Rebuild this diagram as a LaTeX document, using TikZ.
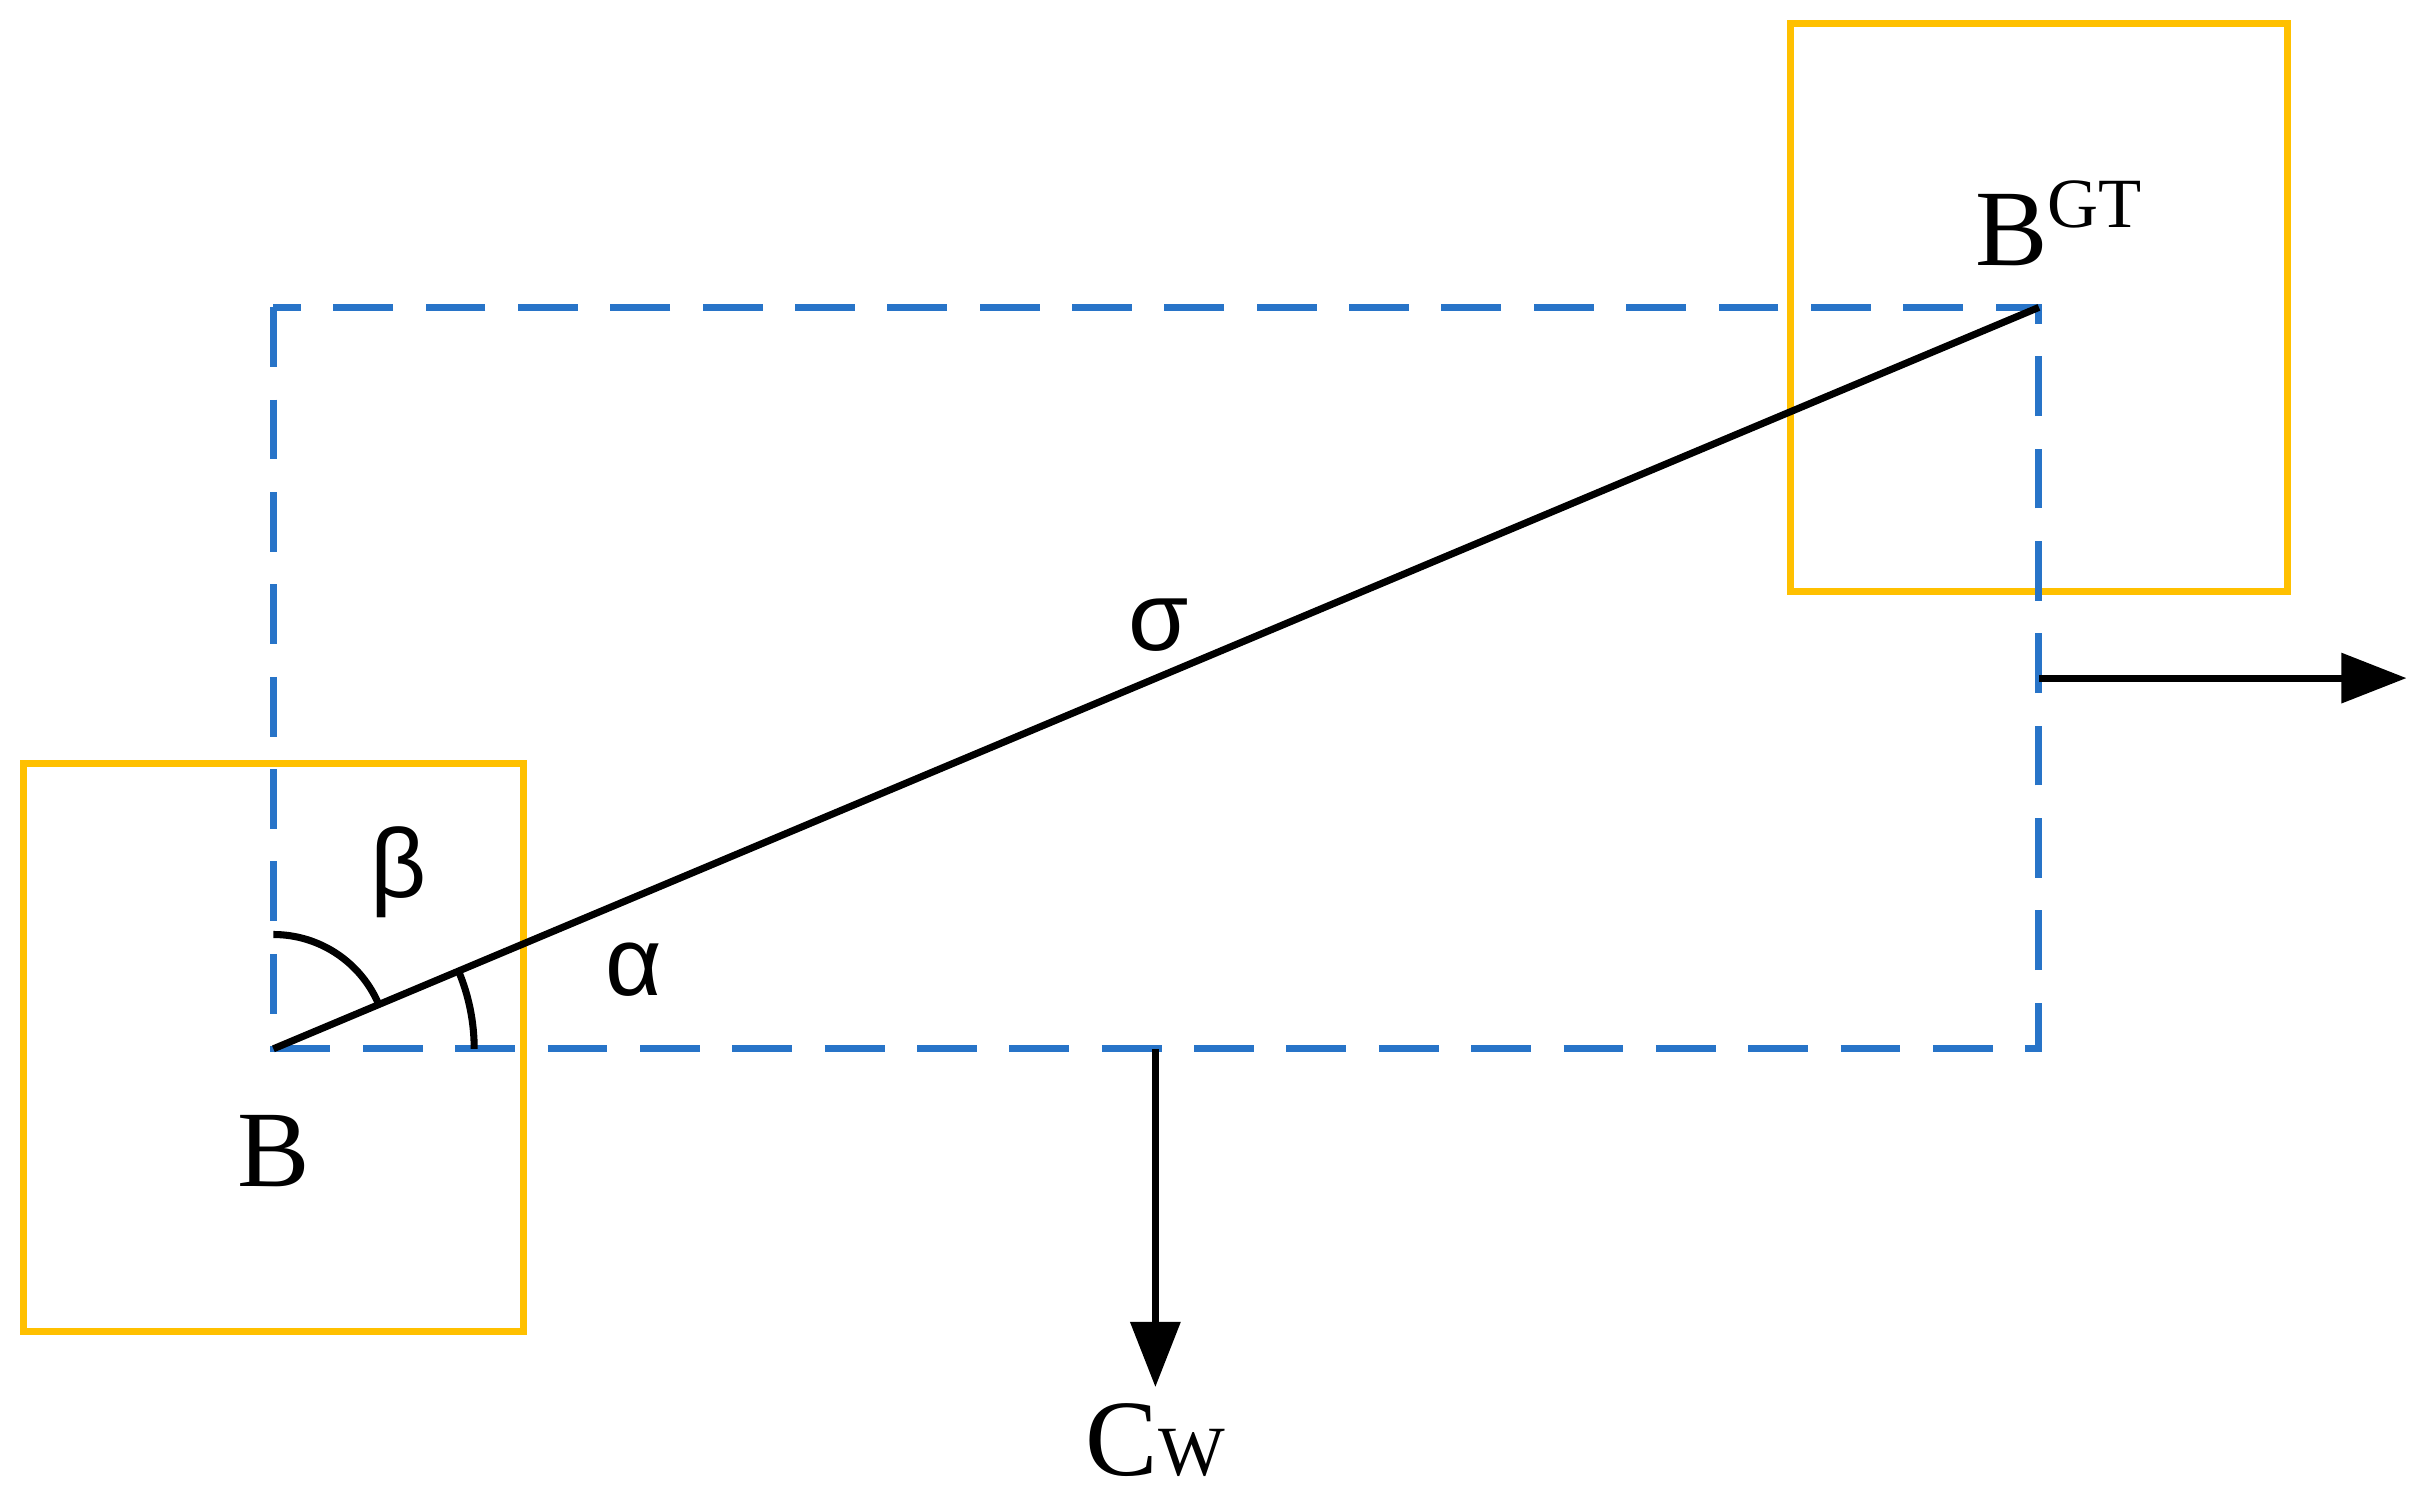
\documentclass[tikz,border=0pt]{standalone}
\usepackage{fontspec}
\setmainfont{Liberation Serif}
\newfontfamily\gsans{Liberation Sans}
\usetikzlibrary{arrows.meta}
\definecolor{orng}{RGB}{255,192,0}
\definecolor{blu}{RGB}{40,116,200}
\begin{document}
\begin{tikzpicture}[x=0.01cm,y=-0.01cm,
  obox/.style={draw=orng,line width=1.3pt},
  dbox/.style={draw=blu,line width=1.3pt,dash pattern=on 11pt off 6pt},
  ln/.style={line width=1.3pt,black},
  arr/.style={ln,-{Triangle[length=12pt,width=9pt]}},
  lab/.style={font=\fontsize{20}{22}\selectfont,inner sep=0pt},
  glab/.style={font=\gsans\fontsize{18}{20}\selectfont}]
\useasboundingbox (0,0) rectangle (1568,970);
\draw[obox] (15,494) rectangle (339,862);
\draw[obox] (1159,15) rectangle (1481,383);
\draw[dbox] (177,199) rectangle (1320,679);
\coordinate (B) at (177,679);
\coordinate (G) at (1320,199);
\coordinate (R) at (1320,439);
\coordinate (R2) at (1558,439);
\coordinate (D) at (748,679);
\coordinate (D2) at (748,898);
\draw[ln] (B) -- (G);
\draw[arr] (R) -- (R2);
\draw[arr] (D) -- (D2);
\draw[ln] (177,605) arc[start angle=-90,end angle=-22.8,radius=74];
\draw[ln] (307,679) arc[start angle=0,end angle=-22.8,radius=130];
\node[lab] (nB) at (177,745) {B};
\node[lab,anchor=base west] (nG) at (1278,172) {B{\fontsize{13}{14}\selectfont\raisebox{7pt}{GT}}};
\node[glab] (ns) at (750,405) {σ};
\node[glab] (nb) at (258,565) {β};
\node[glab] (na) at (410,628) {α};
\node[lab,anchor=base] (nC) at (748,955) {C{\fontsize{13}{14}\selectfont W}};
\end{tikzpicture}
\end{document}
